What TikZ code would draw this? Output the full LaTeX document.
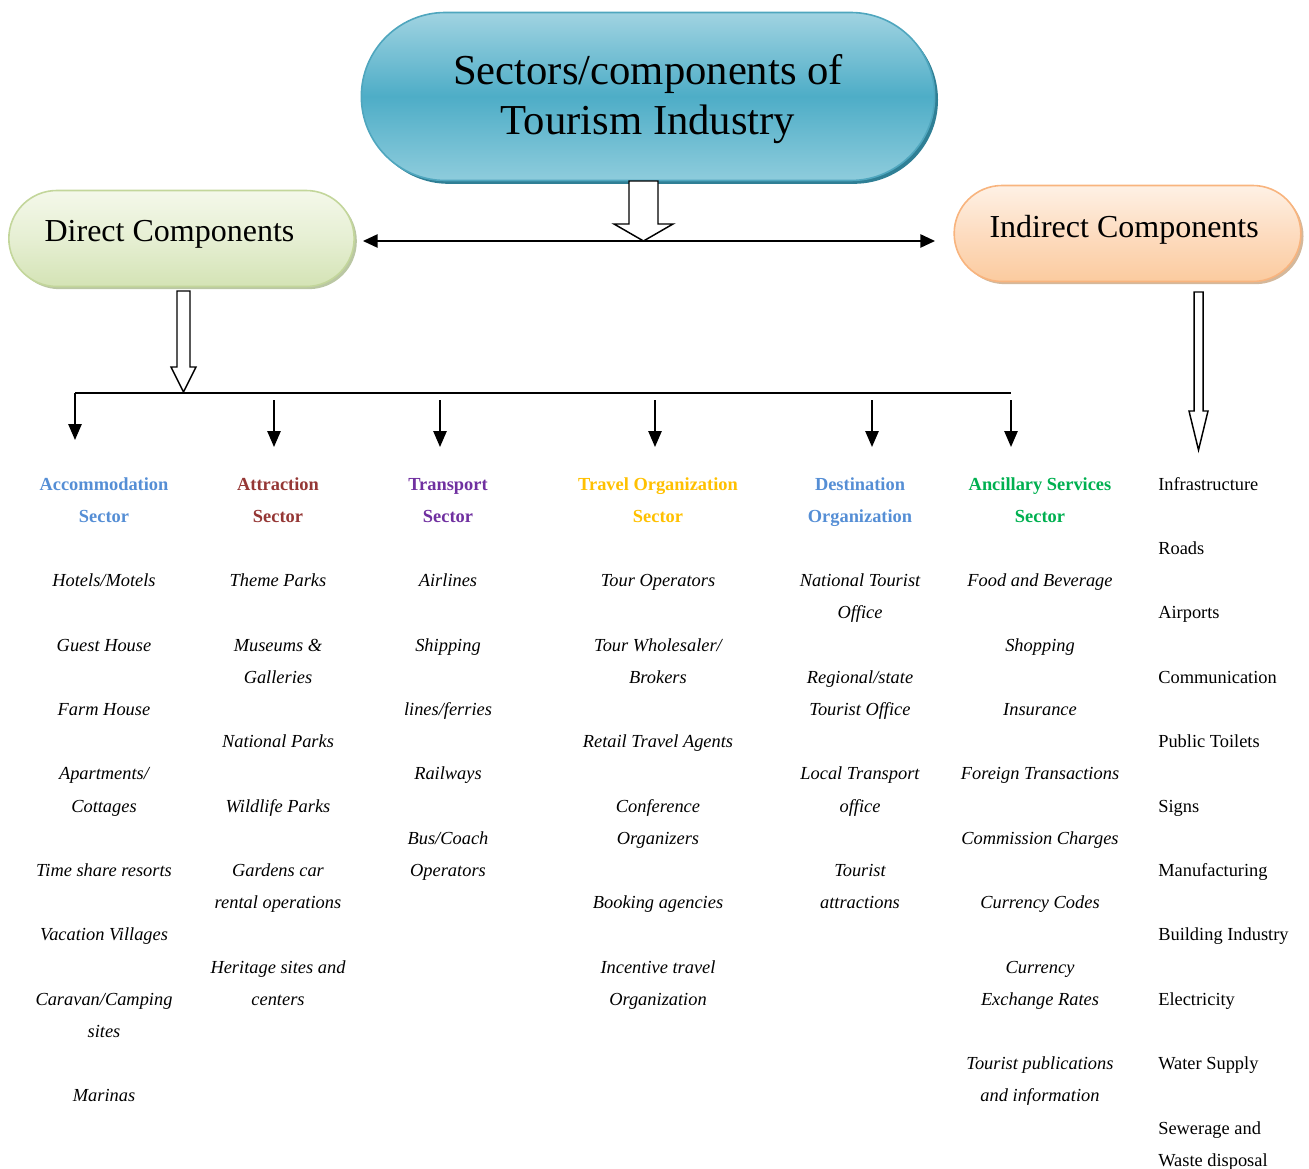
\documentclass[tikz,border=0pt]{standalone}
\usepackage{fontspec}
\setmainfont{Liberation Serif}
\usetikzlibrary{arrows.meta,shadows}
\definecolor{hAcc}{HTML}{558ED5}
\definecolor{hAtt}{HTML}{953735}
\definecolor{hTra}{HTML}{7030A0}
\definecolor{hTrv}{HTML}{FFC000}
\definecolor{hDes}{HTML}{558ED5}
\definecolor{hAnc}{HTML}{00B050}
\definecolor{tTop}{HTML}{A0D3E1}
\definecolor{tMid}{HTML}{4EADC7}
\definecolor{tBot}{HTML}{8ECCDC}
\definecolor{tBor}{HTML}{4FA6BE}
\definecolor{tSha}{HTML}{2F7F95}
\definecolor{dTop}{HTML}{F4F8EA}
\definecolor{dMid}{HTML}{E6EFD3}
\definecolor{dBot}{HTML}{D4E3B5}
\definecolor{dBor}{HTML}{C3D69B}
\definecolor{dSha}{HTML}{A9B98C}
\definecolor{iTop}{HTML}{FEF1E5}
\definecolor{iMid}{HTML}{FDDCC0}
\definecolor{iBot}{HTML}{FBCB9F}
\definecolor{iBor}{HTML}{F8B47E}
\definecolor{iSha}{HTML}{C9A682}
\newcommand\rowy[1]{490+32.2*#1}
\begin{document}
\begin{tikzpicture}[x=0.75pt,y=-0.75pt,
  body/.style={font=\fontsize{13.8}{16}\selectfont\itshape, anchor=base, inner sep=0pt},
  hd/.style={font=\fontsize{13.8}{16}\selectfont\bfseries, anchor=base, inner sep=0pt},
  infra/.style={font=\fontsize{13.8}{16}\selectfont, anchor=base west, inner sep=0pt},
  hollow/.style={draw=black, line width=1.1pt, fill=white, line join=miter},
  conn/.style={line width=1.3pt, -{Triangle[length=12pt,width=10pt]}},
  pill/.style={line width=1.2pt, inner sep=0pt},
]
\useasboundingbox (0,0) rectangle (1309,1169);

% top shapes
\node[pill, draw=tBor, rounded corners=63pt, minimum width=430pt, minimum height=126pt,
  top color=tTop, bottom color=tBot, middle color=tMid,
  drop shadow={shadow xshift=2.5pt, shadow yshift=-2.5pt, fill=tSha, opacity=1},
  align=center, font=\fontsize{32}{37.5}\selectfont] (title) at (648,96.5)
  {\raisebox{-2pt}[\height][\depth]{\begin{tabular}{@{}c@{}}Sectors/components of\\Tourism Industry\end{tabular}}};

\node[pill, draw=dBor, rounded corners=36pt, minimum width=259pt, minimum height=72pt,
  top color=dTop, bottom color=dBot, middle color=dMid,
  drop shadow={shadow xshift=2pt, shadow yshift=-2pt, fill=dSha, opacity=0.8},
  font=\fontsize{24}{28}\selectfont] (direct) at (181.5,238.5)
  {\raisebox{3pt}[\height][\depth]{\hspace*{-18pt}Direct Components}};

\node[pill, draw=iBor, rounded corners=36pt, minimum width=260pt, minimum height=72pt,
  top color=iTop, bottom color=iBot, middle color=iMid,
  drop shadow={shadow xshift=2pt, shadow yshift=-2pt, fill=iSha, opacity=0.8},
  font=\fontsize{24}{28}\selectfont] (indirect) at (1127.5,233.5)
  {\raisebox{3pt}[\height][\depth]{\hspace*{-5pt}Indirect Components}};

% hollow arrows
\draw[hollow] (629,181) -- (658,181) -- (658,224) -- (673,224) -- (643.5,241)
  -- (614,224) -- (629,224) -- cycle;
\draw[hollow] (177,291) -- (190,291) -- (190,367) -- (196,367) -- (183.5,392)
  -- (171,367) -- (177,367) -- cycle;
\draw[hollow] (1194,292) -- (1203,292) -- (1203,411) -- (1208,411) -- (1198.5,450)
  -- (1189,411) -- (1194,411) -- cycle;

% double arrow
\coordinate (dl) at (363,241);
\coordinate (dr) at (935,241);
\draw[line width=1.2pt, {Triangle[length=11pt,width=10pt]}-{Triangle[length=11pt,width=10pt]}] (dl) -- (dr);

% bracket line and arrows
\coordinate (bl) at (75,393);
\coordinate (br) at (1011,393);
\draw[line width=1.3pt] (bl) -- (br);
\coordinate (e1) at (75,440);
\draw[conn] (bl) -- (e1);
\foreach \x/\n in {274/2,440/3,655/4,872/5,1011/6}{
  \coordinate (s\n) at (\x,400);
  \coordinate (e\n) at (\x,447);
  \draw[conn] (s\n) -- (e\n);
}

% column 1
\node[hd, text=hAcc] (c1h1) at (104,{\rowy{0}}) {Accommodation};
\node[hd, text=hAcc] (c1h2) at (104,{\rowy{1}}) {Sector};
\node[body] (c1a) at (104,{\rowy{3}}) {Hotels/Motels};
\node[body] (c1b) at (104,{\rowy{5}}) {Guest House};
\node[body] (c1c) at (104,{\rowy{7}}) {Farm House};
\node[body] (c1d) at (104,{\rowy{9}}) {Apartments/};
\node[body] (c1e) at (104,{\rowy{10}}) {Cottages};
\node[body] (c1f) at (104,{\rowy{12}}) {Time share resorts};
\node[body] (c1g) at (104,{\rowy{14}}) {Vacation Villages};
\node[body] (c1h) at (104,{\rowy{16}}) {Caravan/Camping};
\node[body] (c1i) at (104,{\rowy{17}}) {sites};
\node[body] (c1j) at (104,{\rowy{19}}) {Marinas};

% column 2
\node[hd, text=hAtt] (c2h1) at (278,{\rowy{0}}) {Attraction};
\node[hd, text=hAtt] (c2h2) at (278,{\rowy{1}}) {Sector};
\node[body] (c2a) at (278,{\rowy{3}}) {Theme Parks};
\node[body] (c2b) at (278,{\rowy{5}}) {Museums \&};
\node[body] (c2c) at (278,{\rowy{6}}) {Galleries};
\node[body] (c2d) at (278,{\rowy{8}}) {National Parks};
\node[body] (c2e) at (278,{\rowy{10}}) {Wildlife Parks};
\node[body] (c2f) at (278,{\rowy{12}}) {Gardens car};
\node[body] (c2g) at (278,{\rowy{13}}) {rental operations};
\node[body] (c2h) at (278,{\rowy{15}}) {Heritage sites and};
\node[body] (c2i) at (278,{\rowy{16}}) {centers};

% column 3
\node[hd, text=hTra] (c3h1) at (448,{\rowy{0}}) {Transport};
\node[hd, text=hTra] (c3h2) at (448,{\rowy{1}}) {Sector};
\node[body] (c3a) at (448,{\rowy{3}}) {Airlines};
\node[body] (c3b) at (448,{\rowy{5}}) {Shipping};
\node[body] (c3c) at (448,{\rowy{7}}) {lines/ferries};
\node[body] (c3d) at (448,{\rowy{9}}) {Railways};
\node[body] (c3e) at (448,{\rowy{11}}) {Bus/Coach};
\node[body] (c3f) at (448,{\rowy{12}}) {Operators};

% column 4
\node[hd, text=hTrv] (c4h1) at (658,{\rowy{0}}) {Travel Organization};
\node[hd, text=hTrv] (c4h2) at (658,{\rowy{1}}) {Sector};
\node[body] (c4a) at (658,{\rowy{3}}) {Tour Operators};
\node[body] (c4b) at (658,{\rowy{5}}) {Tour Wholesaler/};
\node[body] (c4c) at (658,{\rowy{6}}) {Brokers};
\node[body] (c4d) at (658,{\rowy{8}}) {Retail Travel Agents};
\node[body] (c4e) at (658,{\rowy{10}}) {Conference};
\node[body] (c4f) at (658,{\rowy{11}}) {Organizers};
\node[body] (c4g) at (658,{\rowy{13}}) {Booking agencies};
\node[body] (c4h) at (658,{\rowy{15}}) {Incentive travel};
\node[body] (c4i) at (658,{\rowy{16}}) {Organization};

% column 5
\node[hd, text=hDes] (c5h1) at (860,{\rowy{0}}) {Destination};
\node[hd, text=hDes] (c5h2) at (860,{\rowy{1}}) {Organization};
\node[body] (c5a) at (860,{\rowy{3}}) {National Tourist};
\node[body] (c5b) at (860,{\rowy{4}}) {Office};
\node[body] (c5c) at (860,{\rowy{6}}) {Regional/state};
\node[body] (c5d) at (860,{\rowy{7}}) {Tourist Office};
\node[body] (c5e) at (860,{\rowy{9}}) {Local Transport};
\node[body] (c5f) at (860,{\rowy{10}}) {office};
\node[body] (c5g) at (860,{\rowy{12}}) {Tourist};
\node[body] (c5h) at (860,{\rowy{13}}) {attractions};

% column 6
\node[hd, text=hAnc] (c6h1) at (1040,{\rowy{0}}) {Ancillary Services};
\node[hd, text=hAnc] (c6h2) at (1040,{\rowy{1}}) {Sector};
\node[body] (c6a) at (1040,{\rowy{3}}) {Food and Beverage};
\node[body] (c6b) at (1040,{\rowy{5}}) {Shopping};
\node[body] (c6c) at (1040,{\rowy{7}}) {Insurance};
\node[body] (c6d) at (1040,{\rowy{9}}) {Foreign Transactions};
\node[body] (c6e) at (1040,{\rowy{11}}) {Commission Charges};
\node[body] (c6f) at (1040,{\rowy{13}}) {Currency Codes};
\node[body] (c6g) at (1040,{\rowy{15}}) {Currency};
\node[body] (c6h) at (1040,{\rowy{16}}) {Exchange Rates};
\node[body] (c6i) at (1040,{\rowy{18}}) {Tourist publications};
\node[body] (c6j) at (1040,{\rowy{19}}) {and information};

% column 7
\node[infra] (c7a) at (1158,{\rowy{0}}) {Infrastructure};
\node[infra] (c7b) at (1158,{\rowy{2}}) {Roads};
\node[infra] (c7c) at (1158,{\rowy{4}}) {Airports};
\node[infra] (c7d) at (1158,{\rowy{6}}) {Communication};
\node[infra] (c7e) at (1158,{\rowy{8}}) {Public Toilets};
\node[infra] (c7f) at (1158,{\rowy{10}}) {Signs};
\node[infra] (c7g) at (1158,{\rowy{12}}) {Manufacturing};
\node[infra] (c7h) at (1158,{\rowy{14}}) {Building Industry};
\node[infra] (c7i) at (1158,{\rowy{16}}) {Electricity};
\node[infra] (c7j) at (1158,{\rowy{18}}) {Water Supply};
\node[infra] (c7k) at (1158,{\rowy{20}}) {Sewerage and};
\node[infra] (c7l) at (1158,{\rowy{21}}) {Waste disposal};
\end{tikzpicture}
\end{document}
